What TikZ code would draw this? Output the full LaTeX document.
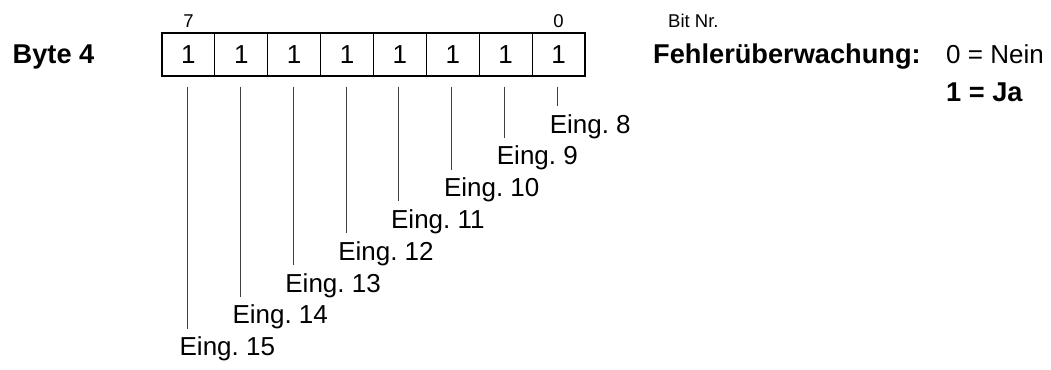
\documentclass[tikz,border=0pt]{standalone}
\usepackage{fontspec}
\setmainfont{Liberation Sans}
\usetikzlibrary{calc}
\begin{document}
\begin{tikzpicture}[x=1bp,y=-1bp,
  txt/.style={inner sep=0pt,font=\fontsize{26bp}{30bp}\selectfont},
  btxt/.style={inner sep=0pt,font=\fontsize{27.2bp}{31bp}\selectfont\bfseries},
  small/.style={inner sep=0pt,font=\fontsize{18.5bp}{21bp}\selectfont},
  cell/.style={draw,line width=1.2bp,minimum width=52.9bp,minimum height=43bp,inner sep=0pt,font=\fontsize{26bp}{30bp}\selectfont},
  conn/.style={line width=0.9bp,draw=black!75}]
\useasboundingbox (0,0) rectangle (1051,369);
% cells: bit 7 at left, bit 0 at right
\foreach \b in {0,...,7}{
  \pgfmathsetmacro{\cx}{162+52.875*(7-\b)+26.44}
  \node[cell] (c\b) at (\cx,54.5) {1};
}
\node[small,anchor=base] (n7) at (c7.center |- 0,27) {7};
\node[small,anchor=base] (n0) at (c0.center |- 0,27) {0};
\node[small,anchor=base west] (bitnr) at (668,27) {Bit Nr.};
\node[btxt,anchor=base west] (byte) at (12.5,63) {Byte 4};
\node[btxt,anchor=base west] (fue) at (653,63) {Fehlerüberwachung:};
\node[txt,anchor=base west] (nein) at (946,63) {0 = Nein};
\node[btxt,anchor=base west] (ja) at (946,101) {1 = Ja};
% labels and connectors
\foreach \b/\e in {0/8,1/9,2/10,3/11,4/12,5/13,6/14,7/15}{
  \node[txt,anchor=base west] (l\b) at ($(c\b.center |- 0,{133+31.8*\b})+(-9,0)$) {Eing.~\e};
  \draw[conn,shorten <=10bp,shorten >=8bp] ([xshift=-1bp]c\b.south) -- ([xshift=-1bp]c\b.south |- l\b.north);
}
\end{tikzpicture}
\end{document}
